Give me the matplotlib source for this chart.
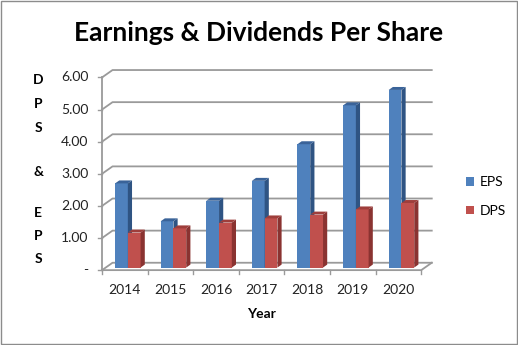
import matplotlib.pyplot as plt
from matplotlib.patches import Polygon, Patch, Rectangle

plt.rcParams["font.family"] = ["Lato", "DejaVu Sans"]

YEARS = ["2014", "2015", "2016", "2017", "2018", "2019", "2020"]
EPS = [2.62, 1.44, 2.08, 2.70, 3.84, 5.05, 5.53]
DPS = [1.09, 1.22, 1.40, 1.53, 1.65, 1.81, 2.01]
Y_TICKS = [0, 1, 2, 3, 4, 5, 6]
Y_TICK_LABELS = ["-", "1.00", "2.00", "3.00", "4.00", "5.00", "6.00"]
Y_TITLE = ["D", "P", "S", "&", "E", "P", "S"]

SERIES = [
    ("EPS", EPS, "#4F81BD", "#2F5483", "#3A6399"),
    ("DPS", DPS, "#C0504D", "#8A3331", "#9E3E3B"),
]

# oblique depth vector of the 3d box, in data units
DEPTH = 0.23
# bar slab sits between these fractions of the depth
F0, F1 = 0.35, 0.75
BAR_LEFT = 0.205
BAR_W = 0.28
GRID = "#9a9a9a"

fig = plt.figure(figsize=(5.18, 3.45), dpi=100)
ax = fig.add_axes([0.197, 0.217, 0.6365, 0.58])
n = len(YEARS)
ax.set_xlim(0, n + DEPTH)
ax.set_ylim(0, Y_TICKS[-1] + DEPTH)
ax.axis("off")

# back wall gridlines with the diagonal on the side wall
for v in Y_TICKS:
    ax.plot([0, DEPTH, n + DEPTH], [v, v + DEPTH, v + DEPTH],
            color=GRID, lw=1.3, zorder=1, clip_on=False)
    ax.plot([-0.08, 0], [v, v], color=GRID, lw=1, clip_on=False)
# floor front edge and right edge
ax.plot([0, n, n + DEPTH], [0, 0, DEPTH], color=GRID, lw=1.3, zorder=1, clip_on=False)
ax.plot([0, 0], [0, Y_TICKS[-1]], color=GRID, lw=1.3, zorder=1, clip_on=False)
for i in range(n + 1):
    ax.plot([i, i], [0, -0.12], color=GRID, lw=1, clip_on=False)

sx, sy = F0 * DEPTH, F0 * DEPTH
dd = (F1 - F0) * DEPTH
for k, (name, vals, front, side, top) in enumerate(SERIES):
    xs = [i + BAR_LEFT + k * BAR_W + sx for i in range(n)]
    ax.bar(xs, vals, width=BAR_W, bottom=sy, align="edge", color=front,
           edgecolor="none", zorder=3 + k)
    for x0, v in zip(xs, vals):
        x1 = x0 + BAR_W
        ax.add_patch(Polygon([(x1, sy), (x1 + dd, sy + dd), (x1 + dd, sy + v + dd), (x1, sy + v)],
                             closed=True, fc=side, ec="none", zorder=3 + k))
        ax.add_patch(Polygon([(x0, sy + v), (x1, sy + v), (x1 + dd, sy + v + dd), (x0 + dd, sy + v + dd)],
                             closed=True, fc=top, ec="none", zorder=3 + k))

for v, lab in zip(Y_TICKS, Y_TICK_LABELS):
    ax.text(-0.30, v, lab, ha="right", va="center", fontsize=10, color="#222222")
for i, yr in enumerate(YEARS):
    ax.text(i + 0.5, -0.62, yr, ha="center", va="center", fontsize=10, color="#222222")

fig.text(0.505, 0.090, "Year", ha="center", va="center", fontsize=10, fontweight="bold")
# stacked y axis title, one letter per row (pixel rows from the top)
for ch, row in zip(Y_TITLE, [80, 104, 128, 172, 213, 236, 259]):
    fig.text(0.0735, 1 - row / 345, ch, ha="center", va="center",
             fontsize=10, fontweight="bold")
fig.text(0.5, 0.905, "Earnings & Dividends Per Share", ha="center", va="center",
         fontsize=19, fontweight="bold")

handles = [Patch(facecolor=s[2], edgecolor="none") for s in SERIES]
fig.legend(handles, [s[0] for s in SERIES], loc="center left",
           bbox_to_anchor=(0.875, 0.43), frameon=False, fontsize=10,
           handlelength=0.6, handleheight=0.6, handletextpad=0.4, labelspacing=1.2)

fig.add_artist(Rectangle((0.001, 0.002), 0.997, 0.995, transform=fig.transFigure,
                         fill=False, ec="#8c8c8c", lw=1))

fig.savefig("out.png", dpi=100)
